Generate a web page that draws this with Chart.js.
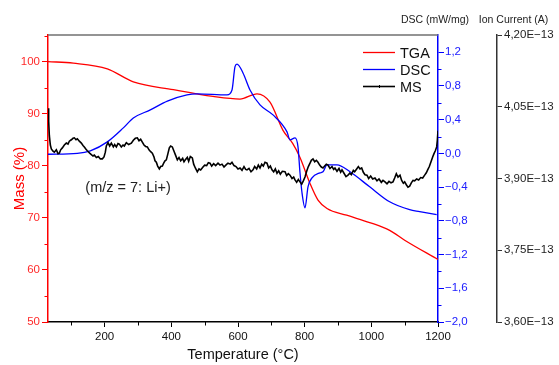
<!DOCTYPE html>
<html>
<head>
<meta charset="utf-8">
<script src="https://cdn.jsdelivr.net/npm/chart.js@4.4.1/dist/chart.umd.min.js"></script>
<style>
  html, body { margin: 0; padding: 0; background: #fff; }
</style>
</head>
<body>
<canvas id="grafico" width="559" height="365"></canvas>
<script>
// TGA (massa %)
const tgaT    = [30, 106, 208, 286, 406, 525, 606, 657, 696, 735, 764, 786, 816, 840, 867, 926, 995, 1055, 1100, 1200];
const tgaMass = [100.0, 99.7, 98.6, 96.1, 94.6, 93.3, 92.8, 93.8, 92.2, 86.8, 84.3, 81.6, 76.6, 73.4, 71.8, 70.5, 69.1, 67.6, 65.7, 62.0];

// DSC (mW/mg)
const dscT   = [30, 118, 157, 208, 256, 286, 337, 388, 447, 478, 567, 582, 591, 597, 615, 636, 666, 705, 747, 756, 771, 780, 786, 792, 801, 810, 822, 846, 855, 867, 897, 936, 995, 1055, 1115, 1145, 1196];
const dscVal = [-0.01, 0.0, 0.03, 0.137, 0.303, 0.42, 0.516, 0.62, 0.694, 0.706, 0.694, 0.753, 1.03, 1.06, 0.955, 0.753, 0.576, 0.457, 0.256, 0.161, 0.185, 0.078, -0.23, -0.467, -0.645, -0.396, -0.29, -0.23, -0.218, -0.135, -0.135, -0.218, -0.396, -0.574, -0.668, -0.69, -0.727];

// MS m/z = 7 (corrente ionica, E-13 A)
const msT = [30, 32, 34, 37, 40, 45, 49, 55, 60, 64, 68, 73, 79, 85, 90, 94, 100, 105, 109, 114, 118, 124, 130, 135, 139, 144, 148, 155, 160, 165, 169, 175, 181, 187, 193, 198,
    202, 205, 210, 215, 220, 226, 230, 235, 240, 244, 250, 255, 259, 265, 272, 280, 286, 292, 298, 303, 308, 313, 318, 323, 328, 333, 338, 343, 348, 351, 355, 359, 364, 368,
    373, 377, 381, 385, 389, 394, 398, 403, 408, 412, 418, 423, 428, 434, 438, 442, 448, 452, 457, 463, 467, 472, 478, 483, 488, 495, 500, 506, 511, 516, 521, 527, 533, 540,
    546, 552, 558, 565, 570, 577, 582, 588, 594, 600, 606, 612, 618, 623, 627, 633, 639, 645, 650, 656, 661, 666, 671, 676, 681, 687, 692, 697, 702, 707, 712, 717, 722, 727,
    733, 741, 746, 751, 756, 762, 767, 771, 776, 781, 786, 791, 796, 801, 806, 811, 816, 820, 825, 830, 835, 840, 845, 850, 855, 860, 865, 870, 876, 882, 887, 891, 897, 903,
    908, 912, 918, 924, 930, 935, 940, 946, 950, 956, 961, 966, 971, 976, 981, 987, 992, 998, 1004, 1011, 1017, 1023, 1030, 1035, 1041, 1047, 1053, 1059, 1065, 1070, 1075,
    1080, 1086, 1091, 1096, 1100, 1105, 1110, 1115, 1120, 1125, 1130, 1136, 1142, 1148, 1154, 1160, 1165, 1169, 1174, 1179, 1184, 1188, 1192, 1196, 1198, 1200];
const msIon = [4.047, 4.02, 3.99, 3.97, 3.962, 3.957, 3.955, 3.96, 3.952, 3.953, 3.960, 3.964, 3.970, 3.974, 3.972, 3.978, 3.981, 3.984, 3.985, 3.981, 3.983, 3.978, 3.974, 3.969, 3.966, 3.961, 3.958, 3.953, 3.950, 3.947, 3.949, 3.944, 3.946, 3.941, 3.941, 3.945,
    3.955, 3.968, 3.975, 3.968, 3.974, 3.966, 3.971, 3.966, 3.973, 3.972, 3.966, 3.970, 3.968, 3.975, 3.971, 3.974, 3.980, 3.984, 3.985, 3.979, 3.982, 3.976, 3.970, 3.967, 3.966, 3.960, 3.956, 3.953, 3.945, 3.937, 3.934, 3.926, 3.920, 3.925,
    3.926, 3.932, 3.937, 3.939, 3.950, 3.964, 3.968, 3.966, 3.957, 3.950, 3.939, 3.944, 3.937, 3.942, 3.935, 3.939, 3.944, 3.936, 3.946, 3.943, 3.930, 3.922, 3.914, 3.920, 3.918, 3.924, 3.928, 3.927, 3.933, 3.932, 3.926, 3.931, 3.927, 3.932,
    3.928, 3.930, 3.924, 3.929, 3.932, 3.930, 3.934, 3.927, 3.925, 3.920, 3.922, 3.917, 3.925, 3.919, 3.918, 3.921, 3.914, 3.918, 3.925, 3.920, 3.928, 3.922, 3.930, 3.926, 3.934, 3.932, 3.922, 3.926, 3.918, 3.914, 3.920, 3.911, 3.916, 3.909,
    3.915, 3.914, 3.906, 3.910, 3.907, 3.900, 3.903, 3.897, 3.892, 3.898, 3.893, 3.888, 3.895, 3.903, 3.915, 3.925, 3.932, 3.938, 3.941, 3.935, 3.938, 3.934, 3.928, 3.924, 3.922, 3.926, 3.930, 3.928, 3.921, 3.925, 3.919, 3.922, 3.915, 3.921,
    3.913, 3.918, 3.911, 3.904, 3.907, 3.911, 3.908, 3.917, 3.914, 3.920, 3.925, 3.920, 3.922, 3.913, 3.908, 3.907, 3.900, 3.905, 3.899, 3.901, 3.895, 3.899, 3.892, 3.896, 3.893, 3.889, 3.894, 3.891, 3.893, 3.901, 3.910,
    3.903, 3.907, 3.896, 3.890, 3.893, 3.887, 3.882, 3.884, 3.891, 3.896, 3.895, 3.899, 3.897, 3.902, 3.901, 3.907, 3.912, 3.918, 3.925, 3.935, 3.945, 3.952, 3.958, 3.966, 3.980, 4.000];

// ticks dos eixos
const tempTicks  = [200, 400, 600, 800, 1000, 1200];
const tempMinor  = [100, 300, 500, 700, 900, 1100];
const massTicks  = [50, 60, 70, 80, 90, 100];
const massMinor  = [55, 65, 75, 85, 95, 105];
const dscTicks   = [-2.0, -1.6, -1.2, -0.8, -0.4, 0.0, 0.4, 0.8, 1.2];
const dscMinor   = [-1.8, -1.4, -1.0, -0.6, -0.2, 0.2, 0.6, 1.0];
const ionTicks   = [3.60, 3.75, 3.90, 4.05, 4.20];

const legendas = ['TGA', 'DSC', 'MS'];

const FONTE = '"Liberation Sans", Arial, sans-serif';
const VERMELHO = '#ff0000';
const AZUL = '#0000ff';

function pontos(xs, ys) {
    return xs.map(function(x, i) { return { x: x, y: ys[i] }; });
}

function fixaTicks(lista) {
    return function(scale) {
        scale.ticks = lista.map(function(v) { return { value: v }; });
    };
}

function virgula(v, casas) {
    return v.toFixed(casas).replace('.', ',').replace('-', '\u2212');
}

// ticks menores, textos e legenda desenhados por cima
const extras = {
    id: 'extras',
    afterDraw: function(chart) {
        const ctx = chart.ctx;
        const a = chart.chartArea;
        const s = chart.scales;
        ctx.save();

        // moldura de cima
        ctx.strokeStyle = '#707070';
        ctx.lineWidth = 1.5;
        ctx.beginPath();
        ctx.moveTo(a.left, a.top);
        ctx.lineTo(a.right, a.top);
        ctx.stroke();

        ctx.lineWidth = 1;
        ctx.strokeStyle = '#000';
        tempMinor.forEach(function(v) {
            const px = Math.round(s.x.getPixelForValue(v)) + 0.5;
            ctx.beginPath(); ctx.moveTo(px, a.bottom); ctx.lineTo(px, a.bottom + 3.5); ctx.stroke();
        });
        ctx.strokeStyle = VERMELHO;
        massMinor.forEach(function(v) {
            const py = Math.round(s.yMass.getPixelForValue(v)) + 0.5;
            ctx.beginPath(); ctx.moveTo(a.left, py); ctx.lineTo(a.left - 3.5, py); ctx.stroke();
        });
        ctx.strokeStyle = AZUL;
        dscMinor.forEach(function(v) {
            const py = Math.round(s.yDsc.getPixelForValue(v)) + 0.5;
            ctx.beginPath(); ctx.moveTo(a.right, py); ctx.lineTo(a.right + 3.5, py); ctx.stroke();
        });

        // titulos no topo dos eixos da direita
        ctx.fillStyle = '#222';
        ctx.font = '10.5px ' + FONTE;
        ctx.textAlign = 'center';
        ctx.textBaseline = 'middle';
        ctx.fillText('DSC (mW/mg)', a.right - 3, 20);
        ctx.fillText('Ion Current (A)', s.yIon.left + 16.5, 20);

        // anotacao
        ctx.fillStyle = '#222';
        ctx.font = '14.5px ' + FONTE;
        ctx.textAlign = 'left';
        ctx.fillText('(m/z = 7: Li+)', s.x.getPixelForValue(142), s.yMass.getPixelForValue(75.7));

        // legenda
        const lx = a.right - 75;
        chart.data.datasets.forEach(function(ds, i) {
            const ly = a.top + 17.5 + i * 17;
            ctx.strokeStyle = ds.borderColor;
            ctx.lineWidth = ds.borderWidth;
            ctx.beginPath(); ctx.moveTo(lx, ly); ctx.lineTo(lx + 32, ly); ctx.stroke();
            if (i === 2) {
                ctx.lineWidth = 1;
                ctx.beginPath(); ctx.moveTo(lx + 16.5, ly - 1.5); ctx.lineTo(lx + 16.5, ly + 1.5); ctx.stroke();
            }
            ctx.fillStyle = '#111';
            ctx.fillText(ds.label, lx + 37, ly + 1);
        });
        ctx.restore();
    }
};

const ctx = document.getElementById('grafico');
const grafico = new Chart(ctx, {
    type: 'line',
    data: {
        datasets: [{
            label: legendas[0],
            data: pontos(tgaT, tgaMass),
            yAxisID: 'yMass',
            borderColor: VERMELHO,
            borderWidth: 1.3,
            cubicInterpolationMode: 'monotone',
            order: 3
        }, {
            label: legendas[1],
            data: pontos(dscT, dscVal),
            yAxisID: 'yDsc',
            borderColor: AZUL,
            borderWidth: 1.3,
            cubicInterpolationMode: 'monotone',
            order: 2
        }, {
            label: legendas[2],
            data: pontos(msT, msIon),
            yAxisID: 'yIon',
            borderColor: '#000000',
            borderWidth: 1.6,
            tension: 0,
            order: 1
        }]
    },
    options: {
        responsive: false,
        animation: false,
        events: [],
        layout: { padding: { top: 35, left: 0, right: 0, bottom: 0 } },
        elements: { point: { radius: 0 } },
        plugins: { legend: { display: false }, tooltip: { enabled: false } },
        scales: {
            x: {
                type: 'linear',
                min: 30, max: 1200,
                afterBuildTicks: fixaTicks(tempTicks),
                afterFit: function(scale) { scale.height = 43; },
                border: { color: '#000', width: 1.5 },
                grid: { drawOnChartArea: false, tickLength: 5, color: '#000' },
                ticks: { color: '#111', padding: 3, maxRotation: 0, autoSkip: false, font: { family: FONTE, size: 11.5 },
                         callback: function(v) { return String(v); } },
                title: { display: true, text: 'Temperature (\u00b0C)', color: '#111', padding: { top: 0, bottom: 1 }, font: { family: FONTE, size: 14.5 } }
            },
            yMass: {
                type: 'linear', position: 'left',
                min: 50, max: 105.1,
                afterBuildTicks: fixaTicks(massTicks),
                afterFit: function(scale) { scale.width = 48; },
                border: { color: VERMELHO, width: 1.5 },
                grid: { drawOnChartArea: false, tickLength: 6, color: VERMELHO },
                ticks: { color: '#ff2a2a', padding: 2, autoSkip: false, font: { family: FONTE, size: 11.5 },
                         callback: function(v) { return String(v); } },
                title: { display: true, text: 'Mass (%)', color: VERMELHO, padding: { top: 10.5, bottom: 0 }, font: { family: FONTE, size: 15 } }
            },
            yDsc: {
                type: 'linear', position: 'right', weight: 0,
                min: -2.0, max: 1.405,
                afterBuildTicks: fixaTicks(dscTicks),
                afterFit: function(scale) { scale.width = 59; },
                border: { color: AZUL, width: 1.5 },
                grid: { drawOnChartArea: false, tickLength: 6, color: AZUL },
                ticks: { color: '#2020ff', padding: 1, autoSkip: false, font: { family: FONTE, size: 11.5 },
                         callback: function(v) { return virgula(v, 1); } }
            },
            yIon: {
                type: 'linear', position: 'right', weight: 1,
                min: 3.6, max: 4.2,
                afterBuildTicks: fixaTicks(ionTicks),
                afterFit: function(scale) { scale.width = 62; },
                border: { color: '#333', width: 1.5 },
                grid: { drawOnChartArea: false, tickLength: 5, color: '#333' },
                ticks: { color: '#222', padding: 2, autoSkip: false, font: { family: FONTE, size: 11.5 },
                         callback: function(v) { return virgula(v, 2) + 'E\u221213'; } }
            }
        }
    },
    plugins: [extras]
});
</script>
</body>
</html>
